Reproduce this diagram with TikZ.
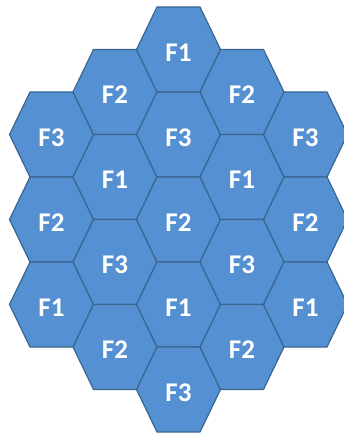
\documentclass[tikz,border=0pt]{standalone}
\usepackage{fontspec}
\setmainfont{Carlito}[BoldFont={Carlito Bold}]
\definecolor{hexfill}{HTML}{5590D2}
\definecolor{hexline}{HTML}{3A6691}
\tikzset{
  hexcell/.style={fill=hexfill, draw=hexline, line width=1.2pt, line join=round},
  hexlabel/.style={text=white, font=\bfseries\fontsize{27}{27}\selectfont, inner sep=0pt}
}
\begin{document}
\begin{tikzpicture}[x=1pt,y=-1pt]
\useasboundingbox (0,0) rectangle (343,433);
\foreach \cx/\cy/\lab/\nm in {
  51.5/134.5/F3/a1, 51.5/219.5/F2/a2, 51.5/304.5/F1/a3,
  115/92/F2/b1, 115/177/F1/b2, 115/262/F3/b3, 115/347/F2/b4,
  178.5/49.5/F1/c1, 178.5/134.5/F3/c2, 178.5/219.5/F2/c3, 178.5/304.5/F1/c4, 178.5/389.5/F3/c5,
  242/92/F2/d1, 242/177/F1/d2, 242/262/F3/d3, 242/347/F2/d4,
  305.5/134.5/F3/e1, 305.5/219.5/F2/e2, 305.5/304.5/F1/e3}{
  \draw[hexcell] (\cx-42,\cy) -- (\cx-21.5,\cy-42.5) -- (\cx+21.5,\cy-42.5)
     -- (\cx+42,\cy) -- (\cx+21.5,\cy+42.5) -- (\cx-21.5,\cy+42.5) -- cycle;
  \node[hexlabel] (\nm) at (\cx,\cy+3) {\lab};
}
\end{tikzpicture}
\end{document}
